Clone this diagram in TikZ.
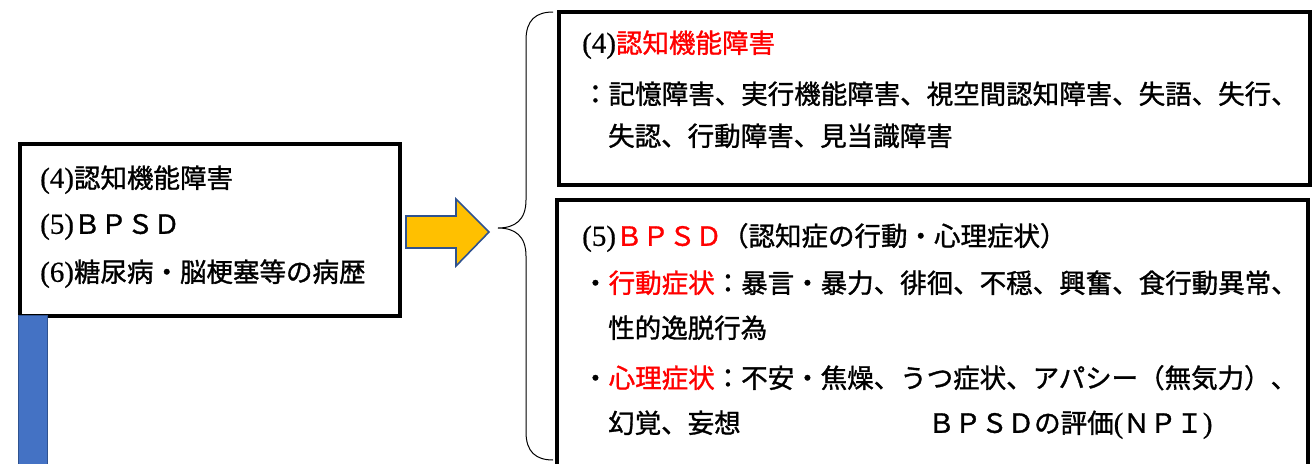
\documentclass[tikz,border=0pt]{standalone}
\usepackage{fontspec}
\setmainfont{Noto Sans CJK JP}[FakeBold=1.2]
\newfontfamily\serf{Liberation Serif}[FakeBold=0.6]
\newcommand{\ser}{\serf\fontsize{29pt}{30pt}\selectfont}
\definecolor{myred}{HTML}{FF0000}
\definecolor{barblue}{HTML}{4472C4}
\definecolor{edgeblue}{HTML}{2F528F}
\definecolor{arrowyellow}{HTML}{FFC000}
\begin{document}
\begin{tikzpicture}[x=1pt,y=-1pt,
  frame/.style={draw=black,line width=4pt},
  txt/.style={anchor=west,inner sep=0pt,font=\fontsize{26.5pt}{30pt}\selectfont,text height=0.88em,text depth=0.12em}]
\useasboundingbox (0,0) rectangle (1316,463);
% left box
\node (L) [frame,anchor=north west,minimum width=380pt,minimum height=172pt,inner sep=0pt] at (18,142) {};
\node (l1) [txt] at (40,184) {{\ser(4)}認知機能障害};
\node (l2) [txt] at (40,230) {{\ser(5)}ＢＰＳＤ};
\node (l3) [txt] at (40,278) {{\ser(6)}糖尿病・脳梗塞等の病歴};
% blue bar
\fill[barblue,draw=edgeblue,line width=0.8pt] (18.5,315) rectangle (47,470);
% yellow arrow
\draw[fill=arrowyellow,draw=edgeblue,line width=1.6pt,line join=miter]
  (406,216) -- (456,216) -- (456,199) -- (489,232) -- (456,266) -- (456,248) -- (406,248) -- cycle;
% brace
\draw[line width=1pt] (553,12) .. controls (536,12) and (526,20) .. (526,40) -- (526,200)
  .. controls (526,220) and (515,228) .. (498,228)
  .. controls (515,228) and (526,236) .. (526,256) -- (526,432)
  .. controls (526,452) and (536,460) .. (553,460);
% top right box
\node (T) [frame,anchor=north west,minimum width=751pt,minimum height=173pt,inner sep=0pt] at (557,10) {};
\node (t1) [txt] at (582,49) {{\ser(4)}\textcolor{myred}{認知機能障害}};
\node (t2) [txt] at (582,100) {：記憶障害、実行機能障害、視空間認知障害、失語、失行、};
\node (t3) [txt] at (608,142) {失認、行動障害、見当識障害};
% bottom right box
\draw[frame] (557,475) |- (1308,200) -- (1308,475);
\node (b1) [txt] at (582,242) {{\ser(5)}\textcolor{myred}{ＢＰＳＤ}（認知症の行動・心理症状）};
\node (b2) [txt] at (582,289) {・\textcolor{myred}{行動症状}：暴言・暴力、徘徊、不穏、興奮、食行動異常、};
\node (b3) [txt] at (608,334) {性的逸脱行為};
\node (b4) [txt] at (582,384) {・\textcolor{myred}{心理症状}：不安・焦燥、うつ症状、アパシー（無気力）、};
\node (b5) [txt] at (608,429) {幻覚、妄想};
\node (b6) [txt] at (928,429) {ＢＰＳＤの評価{\ser(}ＮＰＩ{\ser)}};
\end{tikzpicture}
\end{document}
